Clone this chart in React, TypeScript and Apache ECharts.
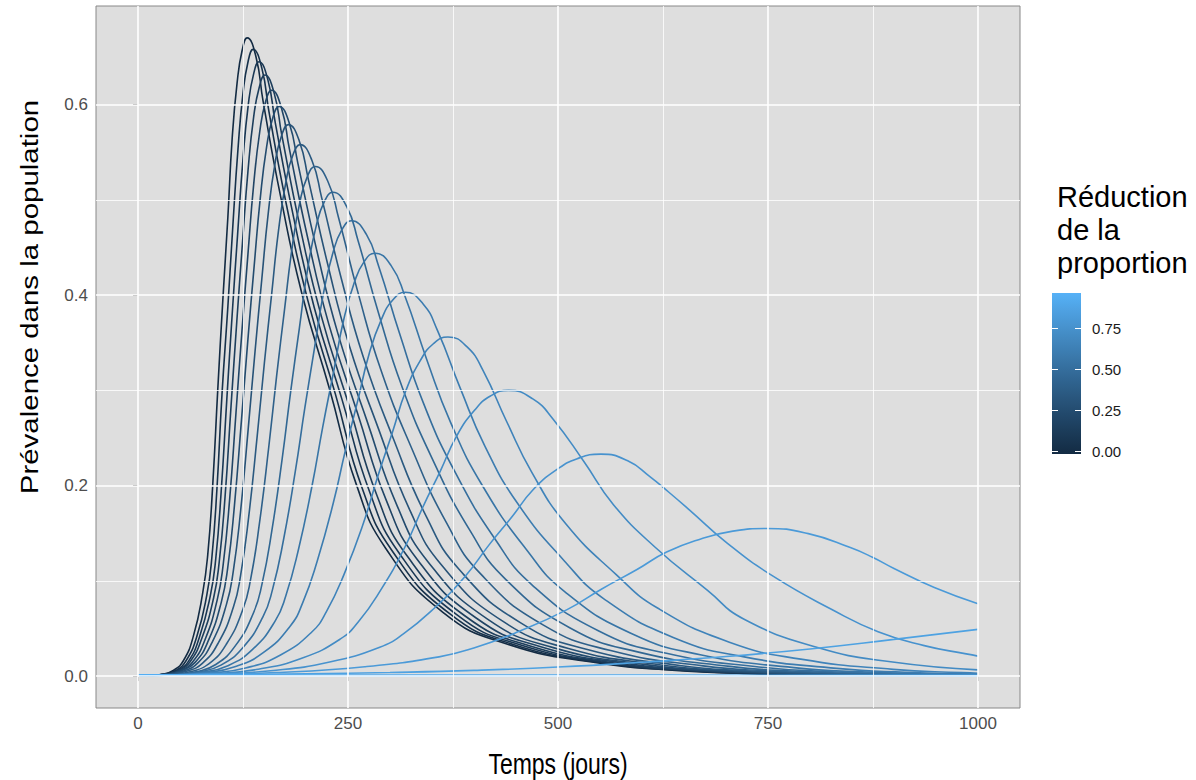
import React, { useEffect, useRef } from "react";
import * as echarts from "echarts";

// Reduction of the proportion for each curve (colour variable)
const reductions = [0, 0.05, 0.1, 0.15, 0.2, 0.25, 0.3, 0.35, 0.4, 0.45, 0.5, 0.55, 0.6, 0.65, 0.7, 0.75, 0.8, 0.85, 0.9, 0.95];

// Prevalence curves: [time (days), prevalence]
const c00 = [[0,0.0003],[15,0.0008],[29,0.002],[42,0.006],[54,0.0161],[66,0.0422],[77,0.0871],[83,0.127],[89,0.201],[95,0.3015],[101,0.395],[107,0.482],[112,0.563],[118,0.623],[124,0.657],[130,0.67],[140.5,0.65],[149,0.603],[170,0.5025],[195,0.402],[228,0.3015],[260,0.201],[295,0.134],[363,0.067],[440,0.0335],[550,0.0134],[627,0.0067],[727,0.0027],[877,0.0007],[1000,0.0003]];
const c01 = [[0,0.0003],[31,0.002],[45,0.0059],[57,0.0158],[70,0.0415],[82,0.0855],[88,0.125],[94,0.197],[100,0.296],[107,0.388],[113,0.474],[119,0.553],[125,0.612],[131,0.645],[137,0.658],[147.5,0.638],[156,0.592],[177,0.4935],[202,0.395],[235,0.296],[267,0.197],[302.5,0.1316],[370.6,0.0658],[447.6,0.0329],[557.6,0.0132],[634.7,0.0066],[734.7,0.0026],[884.8,0.0007],[1000,0.0003]];
const c02 = [[0,0.0003],[32,0.0019],[47,0.0058],[60,0.0155],[73,0.0406],[86,0.0839],[92.5,0.1226],[99,0.1935],[105.7,0.29],[112.2,0.381],[118.6,0.464],[124.9,0.542],[131.3,0.6],[137.6,0.632],[144,0.645],[154.7,0.6257],[163.5,0.5805],[184.7,0.484],[209.8,0.387],[243,0.29],[275.7,0.1935],[311,0.129],[379.4,0.0645],[456.6,0.0323],[566.6,0.0129],[643.7,0.0065],[743.9,0.0026],[894.2,0.0006],[1000,0.0003]];
const c03 = [[0,0.0003],[33,0.0019],[48,0.0057],[62,0.0151],[76,0.0398],[90,0.082],[96.7,0.12],[103.7,0.189],[110.8,0.284],[117.6,0.372],[124.3,0.454],[130.9,0.53],[137.7,0.587],[144.3,0.618],[151,0.631],[162.1,0.612],[171.2,0.568],[192.6,0.473],[217.9,0.379],[251.2,0.284],[284.7,0.189],[320.5,0.126],[389.4,0.0631],[466.9,0.0316],[576.9,0.0126],[654.1,0.0063],[754.6,0.0025],[905.1,0.0006],[1000,0.0003]];
const c04 = [[0,0.0003],[33,0.0019],[50,0.0055],[65,0.0148],[80,0.0387],[94.3,0.08],[101.4,0.117],[109,0.1845],[116.7,0.277],[123.8,0.363],[130.9,0.443],[137.8,0.517],[145,0.572],[151.9,0.603],[159,0.615],[170.7,0.5966],[180.2,0.5535],[201.8,0.461],[227.3,0.369],[261,0.277],[295.6,0.1845],[332,0.123],[401.7,0.0615],[479.4,0.0308],[589.4,0.0123],[666.9,0.0062],[767.6,0.0025],[918.6,0.0006],[1000,0.0003]];
const c05 = [[0,0.0003],[34,0.0018],[51,0.0054],[68,0.0144],[84,0.0377],[99.2,0.0777],[106.8,0.1136],[114.8,0.179],[123.2,0.269],[130.8,0.353],[138.3,0.4306],[145.6,0.502],[153.2,0.556],[160.4,0.586],[168,0.598],[180.3,0.58],[190.4,0.538],[212.4,0.4485],[238.2,0.359],[272.2,0.269],[308.4,0.179],[345.6,0.1196],[416.1,0.0598],[494.3,0.0299],[604.3,0.012],[682,0.006],[783.2,0.0024],[934.7,0.0006],[1000,0.0004]];
const c06 = [[0,0.0003],[34.5,0.0017],[53.8,0.0052],[71.3,0.0139],[88.8,0.0365],[105.3,0.0753],[113.4,0.11],[122.2,0.1737],[131.3,0.2606],[139.4,0.3416],[147.4,0.4169],[155.1,0.4864],[163.2,0.5385],[170.9,0.5674],[179,0.579],[192.1,0.5616],[202.9,0.521],[225.4,0.434],[251.5,0.347],[285.9,0.2606],[323.9,0.1737],[362.1,0.1158],[433.7,0.0579],[512.4,0.029],[622.4,0.0116],[700.5,0.0058],[802.2,0.0023],[954.3,0.0006],[1000,0.0004]];
const c07 = [[0,0.0003],[36.4,0.0017],[57.5,0.005],[76.6,0.0134],[95.8,0.0352],[113.6,0.0725],[122.2,0.106],[131.8,0.1674],[141.8,0.2511],[150.5,0.3292],[159.2,0.4018],[167.4,0.4687],[176.1,0.5189],[184.3,0.5468],[193,0.558],[207.1,0.5413],[218.7,0.502],[241.7,0.4185],[268.2,0.335],[303.2,0.251],[343.3,0.1674],[382.7,0.1116],[455.6,0.0558],[534.9,0.0279],[644.9,0.0112],[723.4,0.0056],[825.7,0.0022],[978.6,0.0006],[1000,0.0005]];
const c08 = [[0,0.0003],[40.1,0.0016],[63.2,0.0048],[84.3,0.0128],[105.3,0.0337],[124.7,0.0696],[134.1,0.1017],[144.6,0.1605],[155.7,0.2408],[165.1,0.3157],[174.5,0.3852],[183.4,0.4494],[192.7,0.4976],[201.6,0.5243],[211,0.535],[226.2,0.519],[238.7,0.4815],[262.4,0.401],[289.3,0.321],[324.9,0.241],[367.5,0.1605],[408.2,0.107],[482.7,0.0535],[562.7,0.0268],[672.7,0.0107],[751.6,0.0054],[854.6,0.0021],[1000,0.0006]];
const c09 = [[0,0.0003],[43.5,0.0015],[69.2,0.0046],[92.6,0.0122],[116,0.032],[137.3,0.066],[147.6,0.0965],[159.3,0.1524],[171.7,0.2286],[181.9,0.2997],[192.2,0.3658],[201.8,0.4267],[212.1,0.4724],[221.7,0.4978],[232,0.508],[248.5,0.4928],[262,0.457],[286.4,0.381],[313.8,0.305],[350.1,0.2286],[395.5,0.1524],[437.7,0.1016],[513.9,0.0508],[594.7,0.0254],[704.7,0.0102],[784.1,0.0051],[887.9,0.002],[1000,0.0008]];
const c10 = [[0,0.0003],[43.4,0.0014],[72.4,0.0043],[98.7,0.0115],[125,0.0301],[148.7,0.0621],[160.1,0.0908],[173.3,0.1434],[187.3,0.2151],[198.7,0.282],[210.1,0.3442],[220.7,0.4015],[232.1,0.4445],[242.6,0.4684],[254,0.478],[271.9,0.4637],[286.6,0.43],[311.8,0.3585],[339.7,0.2868],[376.9,0.2151],[425.4,0.1434],[469.3,0.0956],[547.4,0.0478],[629.1,0.0239],[739.1,0.0096],[819.1,0.0048],[923.8,0.0019],[1000,0.001]];
const c11 = [[0,0.0003],[43.2,0.0013],[76.3,0.004],[106.3,0.0107],[136.4,0.028],[163.2,0.0577],[176,0.0844],[191.1,0.1332],[207.2,0.1998],[220,0.262],[232.9,0.3197],[244.6,0.373],[257.4,0.4129],[269.2,0.4351],[282,0.444],[301.5,0.4307],[317.5,0.3996],[343.5,0.333],[372.1,0.2664],[410.1,0.1998],[462.1,0.1332],[507.9,0.0888],[588,0.0444],[670.8,0.0222],[780.8,0.0089],[861.3,0.0044],[967.1,0.0018],[1000,0.0014]];
const c12 = [[0,0.0003],[41.5,0.0012],[80.1,0.0036],[115.2,0.0097],[150.3,0.0254],[181.1,0.0524],[195.9,0.0766],[213.4,0.1209],[232.4,0.1814],[247.1,0.2378],[261.9,0.2902],[275.2,0.3385],[289.9,0.3748],[303.3,0.3949],[318,0.403],[339.2,0.3909],[356.6,0.3627],[383.6,0.3023],[412.8,0.2418],[451.8,0.1814],[507.6,0.1209],[555.4,0.0806],[637.9,0.0403],[721.7,0.0202],[831.7,0.0081],[913,0.004],[1000,0.0022]];
const c13 = [[0,0.0003],[39.7,0.0011],[86,0.0032],[128.1,0.0085],[170.2,0.0224],[206.9,0.0463],[224.3,0.0676],[245.3,0.1068],[268.2,0.1602],[285.6,0.21],[303,0.2563],[318.6,0.299],[336,0.3311],[351.6,0.3489],[369,0.356],[392.1,0.3453],[411,0.3204],[439,0.267],[469,0.2136],[509,0.1602],[569,0.1068],[619,0.0712],[704,0.0356],[789,0.0178],[899,0.0071],[981,0.0036],[1000,0.003]];
const c14 = [[0,0.0004],[32.6,0.0009],[90.5,0.0027],[143.1,0.0072],[195.7,0.0189],[241,0.039],[262.4,0.057],[288.7,0.09],[317.5,0.135],[338.9,0.177],[360.3,0.216],[379.3,0.252],[400.6,0.279],[419.6,0.294],[441,0.3],[470,0.291],[494,0.27],[531,0.225],[566,0.18],[616,0.135],[678,0.09],[721,0.06],[809,0.03],[896,0.015],[1000,0.0065]];
const c15 = [[0,0.0006],[10.6,0.0007],[87.8,0.0021],[158,0.0056],[228.2,0.0147],[287.8,0.0303],[315.9,0.0443],[351,0.0699],[389.6,0.1049],[417.7,0.1375],[445.7,0.1678],[470.3,0.1957],[498.4,0.2167],[522.9,0.2283],[551,0.233],[583,0.226],[609,0.2097],[632,0.193],[656,0.1748],[701,0.1398],[756,0.1049],[826,0.0699],[881,0.0466],[936,0.032],[986,0.0233],[1000,0.021]];
const c16 = [[0,0.0008],[59.3,0.0014],[164.6,0.0037],[269.9,0.0098],[358.4,0.0202],[399.8,0.0295],[452.4,0.0465],[510.8,0.0698],[552.1,0.0915],[593.5,0.1116],[629.3,0.1302],[670.8,0.1442],[706.6,0.1519],[748,0.155],[798,0.1496],[848,0.1349],[875,0.1245],[900,0.113],[948,0.093],[1000,0.076]];
const c17 = [[0,0.001],[100,0.0015],[200,0.0024],[300,0.0038],[400,0.006],[500,0.0095],[600,0.0145],[700,0.0205],[800,0.0285],[900,0.0385],[1000,0.049]];
const c18 = [[0,0.001],[250,0.00099],[500,0.00097],[750,0.00096],[1000,0.00095]];
const c19 = [[0,0.001],[100,0.00062],[200,0.00039],[300,0.00024],[400,0.00015],[600,0.00006],[800,0.00002],[1000,0.00001]];

const curves = [c00, c01, c02, c03, c04, c05, c06, c07, c08, c09, c10, c11, c12, c13, c14, c15, c16, c17, c18, c19];

const xTicks = [0, 250, 500, 750, 1000];
const xMinor = [125, 375, 625, 875];
const yTicks = [0, 0.2, 0.4, 0.6];
const yMinor = [0.1, 0.3, 0.5];
const legendTicks = [0, 0.25, 0.5, 0.75];
const legendTickLabels = ["0.00", "0.25", "0.50", "0.75"];

const LOW = "#132B43";
const HIGH = "#56B1F7";
const FONT = "'Liberation Sans', Arial, Helvetica, sans-serif";

// --- Lab colour interpolation (like ggplot2's seq_gradient_pal) ---
const Xn = 0.95047, Yn = 1.0, Zn = 1.08883;
function hexToLab(hex: string) {
  const h = hex.replace("#", "");
  const rgb = [0, 2, 4].map((i) => parseInt(h.slice(i, i + 2), 16) / 255).map((c) =>
    c <= 0.04045 ? c / 12.92 : Math.pow((c + 0.055) / 1.055, 2.4)
  );
  const [r, g, b] = rgb;
  const X = 0.4124564 * r + 0.3575761 * g + 0.1804375 * b;
  const Y = 0.2126729 * r + 0.7151522 * g + 0.072175 * b;
  const Z = 0.0193339 * r + 0.119192 * g + 0.9503041 * b;
  const f = (t: number) => (t > 216 / 24389 ? Math.cbrt(t) : ((24389 / 27) * t + 16) / 116);
  const fx = f(X / Xn), fy = f(Y / Yn), fz = f(Z / Zn);
  return [116 * fy - 16, 500 * (fx - fy), 200 * (fy - fz)];
}
function labToHex(lab: number[]) {
  const [L, a, b] = lab;
  const fy = (L + 16) / 116;
  const fx = fy + a / 500;
  const fz = fy - b / 200;
  const finv = (t: number) => (t * t * t > 216 / 24389 ? t * t * t : (116 * t - 16) / (24389 / 27));
  const X = finv(fx) * Xn, Y = finv(fy) * Yn, Z = finv(fz) * Zn;
  const r = 3.2404542 * X - 1.5371385 * Y - 0.4985314 * Z;
  const g = -0.969266 * X + 1.8760108 * Y + 0.041556 * Z;
  const bb = 0.0556434 * X - 0.2040259 * Y + 1.0572252 * Z;
  const comp = (c: number) => {
    const v = c <= 0.0031308 ? 12.92 * c : 1.055 * Math.pow(c, 1 / 2.4) - 0.055;
    const n = Math.round(Math.min(1, Math.max(0, v)) * 255);
    return n.toString(16).padStart(2, "0");
  };
  return "#" + comp(r) + comp(g) + comp(bb);
}
const labLow = hexToLab(LOW);
const labHigh = hexToLab(HIGH);
function colorAt(t: number) {
  return labToHex(labLow.map((v, i) => v + (labHigh[i] - v) * t));
}

export default function App() {
  const ref = useRef<HTMLDivElement>(null);

  useEffect(() => {
    if (!ref.current) return;
    const chart = echarts.init(ref.current, null, { renderer: "svg" });
    const rMin = Math.min(...reductions);
    const rMax = Math.max(...reductions);

    const curveSeries = curves.map((d, i) => ({
      type: "line",
      name: String(reductions[i]),
      data: d,
      showSymbol: false,
      symbol: "none",
      smooth: 0.5,
      z: 3,
      silent: true,
      lineStyle: { width: 1.6, color: colorAt((reductions[i] - rMin) / (rMax - rMin)) },
    }));

    const gridSeries = {
      type: "line",
      data: [[0, 0]],
      showSymbol: false,
      symbol: "none",
      lineStyle: { width: 0, opacity: 0 },
      z: 1,
      silent: true,
      markLine: {
        silent: true,
        symbol: "none",
        animation: false,
        label: { show: false },
        data: [
          ...xMinor.map((v) => ({ xAxis: v, lineStyle: { color: "#ffffff", width: 0.8, type: "solid" } })),
          ...yMinor.map((v) => ({ yAxis: v, lineStyle: { color: "#ffffff", width: 0.8, type: "solid" } })),
          ...xTicks.map((v) => ({ xAxis: v, lineStyle: { color: "#ffffff", width: 1.6, type: "solid" } })),
          ...yTicks.map((v) => ({ yAxis: v, lineStyle: { color: "#ffffff", width: 1.6, type: "solid" } })),
        ],
      },
    };

    // colour bar (legend)
    const barX = 1052, barW = 29, barTop = 293, barBottom = 454;
    const tickY0 = 451.5, tickPer = 164; // pixels per unit of reduction
    const stops = [];
    for (let i = 0; i <= 20; i++) {
      stops.push({ offset: i / 20, color: colorAt(i / 20) });
    }
    const graphics: any[] = [
      {
        type: "text",
        x: 30,
        y: 297,
        rotation: Math.PI / 2,
        scaleX: 1.28,
        style: {
          text: "Prévalence dans la population",
          fontSize: 23,
          fontFamily: FONT,
          fill: "#000000",
          align: "center",
          verticalAlign: "middle",
        },
      },
      {
        type: "text",
        x: 558,
        y: 764,
        scaleY: 1.25,
        style: {
          text: "Temps (jours)",
          fontSize: 23,
          fontFamily: FONT,
          fill: "#000000",
          align: "center",
          verticalAlign: "middle",
        },
      },
      {
        type: "text",
        x: 1057,
        y: 180,
        style: {
          text: "Réduction\nde la\nproportion",
          fontSize: 29,
          fontFamily: FONT,
          lineHeight: 33,
          fill: "#000000",
          align: "left",
          verticalAlign: "top",
        },
      },
      {
        type: "rect",
        shape: { x: barX, y: barTop, width: barW, height: barBottom - barTop },
        style: {
          fill: new echarts.graphic.LinearGradient(0, 1, 0, 0, stops),
        },
      },
    ];
    legendTicks.forEach((v, i) => {
      const y = tickY0 - v * tickPer;
      graphics.push({
        type: "line",
        shape: { x1: barX, y1: y, x2: barX + 6, y2: y },
        style: { stroke: "#ffffff", lineWidth: 1 },
      });
      graphics.push({
        type: "line",
        shape: { x1: barX + barW - 6, y1: y, x2: barX + barW, y2: y },
        style: { stroke: "#ffffff", lineWidth: 1 },
      });
      graphics.push({
        type: "text",
        x: barX + barW + 11,
        y: y,
        style: {
          text: legendTickLabels[i],
          fontSize: 15,
          fontFamily: FONT,
          fill: "#1a1a1a",
          verticalAlign: "middle",
          align: "left",
        },
      });
    });

    const option = {
      animation: false,
      backgroundColor: "#ffffff",
      grid: {
        left: 96,
        right: 176,
        top: 6,
        bottom: 72,
        show: true,
        backgroundColor: "#DEDEDE",
        borderColor: "#888888",
        borderWidth: 1,
      },
      xAxis: {
        type: "value",
        min: -50,
        max: 1050,
        axisLine: { show: false },
        axisTick: { show: true, length: 5, customValues: xTicks, lineStyle: { color: "#333333", width: 1 } },
        axisLabel: {
          customValues: xTicks,
          margin: 7,
          fontSize: 17,
          color: "#4D4D4D",
          fontFamily: FONT,
          formatter: (v: number) => String(v),
        },
        splitLine: { show: false },
      },
      yAxis: {
        type: "value",
        min: -0.0335,
        max: 0.7035,
        axisLine: { show: false },
        axisTick: { show: true, length: 5, customValues: yTicks, lineStyle: { color: "#333333", width: 1 } },
        axisLabel: {
          customValues: yTicks,
          margin: 8,
          fontSize: 17,
          color: "#4D4D4D",
          fontFamily: FONT,
          formatter: (v: number) => v.toFixed(1),
        },
        splitLine: { show: false },
      },
      series: [gridSeries, ...curveSeries],
      graphic: graphics,
    };
    chart.setOption(option as any);
    return () => chart.dispose();
  }, []);

  return (
    <div
      ref={ref}
      style={{ position: "fixed", left: 0, top: 0, width: "1196px", height: "780px" }}
    />
  );
}
